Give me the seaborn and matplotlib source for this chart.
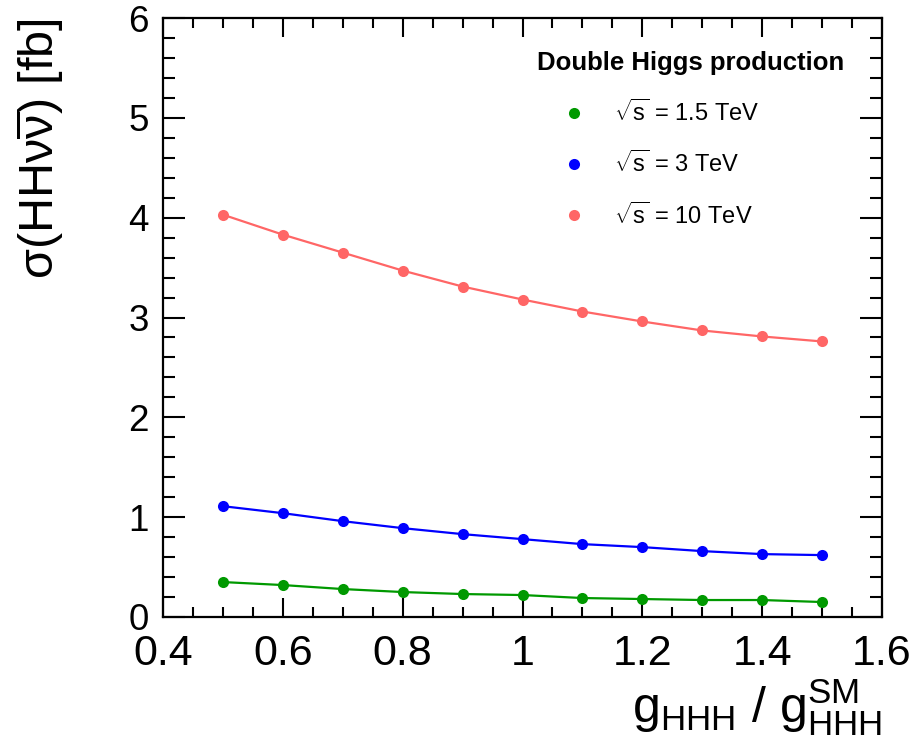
import matplotlib
matplotlib.use("Agg")
import matplotlib.pyplot as plt
import seaborn as sns
import pandas as pd
from matplotlib.lines import Line2D
from matplotlib.ticker import MultipleLocator, FuncFormatter

# ---- data ----
kappa = [0.5, 0.6, 0.7, 0.8, 0.9, 1.0, 1.1, 1.2, 1.3, 1.4, 1.5]
xs_1p5 = [0.35, 0.32, 0.28, 0.25, 0.23, 0.22, 0.19, 0.18, 0.17, 0.17, 0.15]
xs_3 = [1.11, 1.04, 0.96, 0.89, 0.83, 0.78, 0.73, 0.70, 0.66, 0.63, 0.62]
xs_10 = [4.03, 3.83, 3.65, 3.47, 3.31, 3.18, 3.06, 2.96, 2.87, 2.81, 2.76]
series_labels = [r"$\sqrt{\mathrm{s}}$ = 1.5 TeV", r"$\sqrt{\mathrm{s}}$ = 3 TeV", r"$\sqrt{\mathrm{s}}$ = 10 TeV"]
series_colors = ["#009900", "#0000ff", "#ff6666"]
legend_title = "Double Higgs production"

df = pd.DataFrame({
    "kappa": kappa * 3,
    "xs": xs_1p5 + xs_3 + xs_10,
    "series": [series_labels[0]] * len(kappa) + [series_labels[1]] * len(kappa) + [series_labels[2]] * len(kappa),
})

sns.set_theme(style="ticks")
plt.rcParams["font.family"] = ["Liberation Sans", "DejaVu Sans"]
plt.rcParams["mathtext.fontset"] = "custom"
plt.rcParams["mathtext.rm"] = "Liberation Sans"
plt.rcParams["mathtext.it"] = "Liberation Sans:italic"
plt.rcParams["mathtext.bf"] = "Liberation Sans:bold"
for k in ["text.color", "axes.labelcolor", "xtick.color", "ytick.color", "axes.edgecolor"]:
    plt.rcParams[k] = "black"

fig = plt.figure(figsize=(9.22, 7.55), dpi=100)
ax = fig.add_axes([163 / 922, 1 - 617 / 755, (882 - 163) / 922, (617 - 18) / 755])

palette = dict(zip(series_labels, series_colors))
sns.lineplot(data=df, x="kappa", y="xs", hue="series", palette=palette,
             marker="o", markersize=8, markeredgewidth=0, linewidth=1.6,
             legend=False, ax=ax)

ax.set_xlim(0.4, 1.6)
ax.set_ylim(0, 6)
ax.xaxis.set_major_locator(MultipleLocator(0.2))
ax.xaxis.set_minor_locator(MultipleLocator(0.05))
ax.yaxis.set_major_locator(MultipleLocator(1))
ax.yaxis.set_minor_locator(MultipleLocator(0.2))
ax.xaxis.set_major_formatter(FuncFormatter(lambda v, p: f"{v:g}"))

for s in ax.spines.values():
    s.set_linewidth(1.6)
    s.set_color("black")
ax.tick_params(which="both", direction="in", top=True, right=True, width=1.5, colors="black")
ax.tick_params(axis="x", which="major", length=14, pad=12.5, labelsize=31)
ax.tick_params(axis="x", which="minor", length=7)
ax.tick_params(axis="y", which="major", length=16, pad=10, labelsize=26.5)
ax.tick_params(axis="y", which="minor", length=8.5)

ax.set_xlabel(r"$\mathrm{g_{HHH}\ /\ g_{HHH}^{SM}}$", fontsize=36, loc="right")
ax.xaxis.set_label_coords(1.0, -0.1)
ax.set_ylabel(r"σ(HHν$\mathrm{\overline{\nu}}$) [fb]", fontsize=35, loc="top")
ax.yaxis.set_label_coords(-0.135, 1.0)

ax.text((537 - 163) / 719, (617 - 63) / 599, legend_title, transform=ax.transAxes,
        fontsize=18.5, fontweight="bold", ha="left", va="center")
handles = [Line2D([], [], ls="none", marker="o", markersize=8, markeredgewidth=0, color=c)
           for c in series_colors]
ax.legend(handles, series_labels, frameon=False, fontsize=17,
          loc="upper left", bbox_to_anchor=((555 - 163) / 719, (617 - 90) / 599),
          handlelength=0.8, handletextpad=1.3, labelspacing=1.05, borderaxespad=0)

fig.savefig("out.png", dpi=100)
